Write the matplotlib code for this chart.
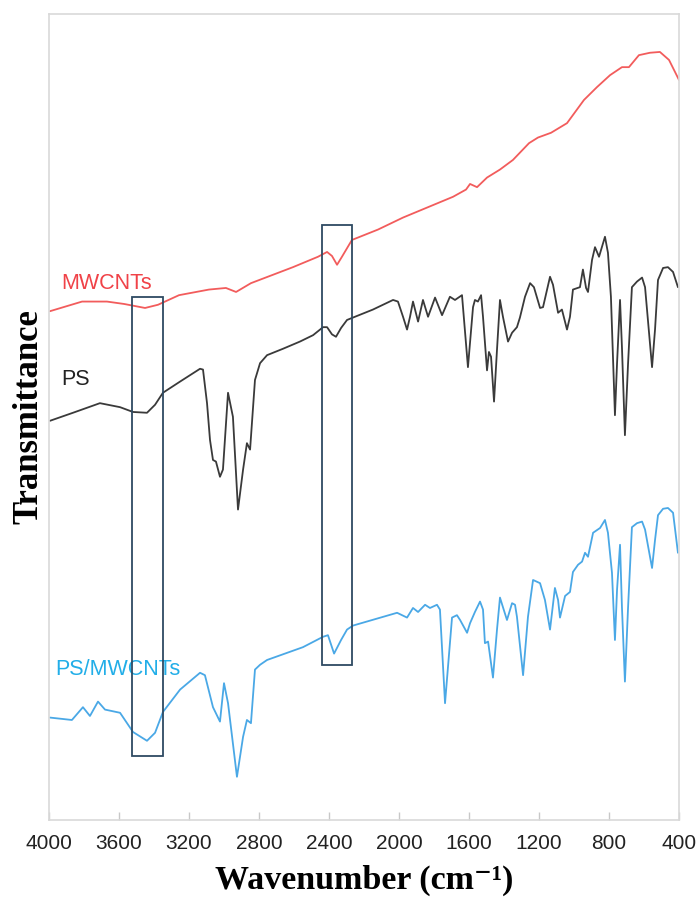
import matplotlib
matplotlib.use("Agg")
import matplotlib.pyplot as plt
from matplotlib.patches import Rectangle

# ---- FTIR spectra (transmittance, arbitrary offset units) ----
mwcnt_wn = [3994, 3811, 3669, 3571, 3451, 3377, 3257, 3086, 2989, 2931, 2846, 2726,
            2606, 2463, 2411, 2383, 2354, 2326, 2269, 2120, 1977, 1834, 1691, 1617,
            1594, 1554, 1497, 1423, 1349, 1257, 1206, 1131, 1040, 943, 869, 794,
            726, 686, 629, 566, 509, 457, 400]
mwcnt_t = [63.6, 64.8, 64.8, 64.5, 64.0, 64.4, 65.6, 66.3, 66.5, 66.0, 67.1, 68.1,
           69.1, 70.4, 71.0, 70.5, 69.4, 70.4, 72.5, 73.8, 75.3, 76.6, 77.9, 78.8,
           79.5, 79.1, 80.3, 81.3, 82.5, 84.6, 85.3, 85.9, 87.1, 90.0, 91.6, 93.1,
           94.1, 94.1, 95.6, 95.9, 96.0, 95.0, 92.5]

ps_wn = [3994, 3863, 3709, 3594, 3520, 3440, 3394, 3349, 3251, 3137, 3120, 3097,
         3080, 3063, 3046, 3023, 3006, 2977, 2949, 2920, 2891, 2869, 2851, 2823,
         2794, 2754, 2663, 2566, 2491, 2434, 2411, 2383, 2360, 2331, 2297, 2263,
         2149, 2034, 2006, 1977, 1954, 1937, 1920, 1891, 1863, 1834, 1794, 1754,
         1709, 1680, 1640, 1606, 1577, 1566, 1549, 1531, 1520, 1497, 1486, 1474,
         1457, 1440, 1423, 1406, 1377, 1354, 1326, 1309, 1280, 1251, 1229, 1194,
         1177, 1137, 1120, 1091, 1069, 1040, 1023, 1006, 966, 949, 931, 920, 897,
         880, 857, 823, 806, 789, 766, 754, 737, 726, 709, 691, 669, 640, 611, 594,
         554, 537, 520, 491, 463, 434, 406]
ps_t = [49.9, 50.9, 52.1, 51.6, 51.0, 50.9, 51.9, 53.4, 54.8, 56.4, 56.3, 52.1,
        47.5, 45.0, 44.8, 42.9, 43.8, 53.4, 50.4, 38.8, 43.8, 47.1, 46.3, 55.0,
        57.1, 58.1, 58.9, 59.8, 60.6, 61.6, 61.6, 60.7, 60.4, 61.5, 62.5, 62.8,
        63.8, 65.0, 64.8, 62.9, 61.3, 62.9, 64.8, 62.3, 65.0, 62.9, 65.3, 63.1,
        65.4, 65.0, 65.6, 56.6, 64.1, 65.0, 64.8, 65.6, 62.9, 56.2, 58.5, 57.9,
        52.3, 58.8, 65.0, 62.9, 59.8, 60.9, 61.6, 62.8, 65.4, 67.1, 66.6, 64.0,
        64.1, 67.9, 66.9, 63.4, 63.8, 61.3, 62.9, 66.3, 66.6, 68.8, 66.5, 66.0, 70.0,
        71.6, 70.4, 72.9, 70.9, 65.4, 50.6, 57.1, 65.0, 59.1, 48.1, 57.1, 66.6, 67.3,
        67.8, 66.6, 56.6, 61.3, 67.5, 69.0, 69.1, 68.5, 66.6]

comp_wn = [3994, 3869, 3806, 3766, 3720, 3680, 3594, 3520, 3440, 3394, 3349, 3251,
           3137, 3109, 3063, 3023, 3000, 2977, 2926, 2891, 2869, 2846, 2823, 2794,
           2754, 2549, 2434, 2406, 2371, 2331, 2297, 2263, 2011, 1954, 1920, 1891,
           1851, 1823, 1783, 1766, 1737, 1697, 1669, 1651, 1611, 1594, 1566, 1537,
           1520, 1509, 1491, 1463, 1440, 1423, 1406, 1383, 1354, 1337, 1326, 1291,
           1263, 1234, 1194, 1166, 1137, 1109, 1091, 1080, 1051, 1023, 1006, 977,
           954, 937, 920, 891, 851, 823, 806, 783, 766, 754, 737, 726, 709, 691, 669,
           640, 611, 594, 554, 537, 520, 491, 463, 434, 406]
comp_t = [12.8, 12.5, 14.1, 13.0, 14.8, 13.8, 13.4, 11.0, 9.9, 10.9, 13.5, 16.3,
          18.4, 18.1, 14.1, 12.3, 17.1, 14.6, 5.4, 10.4, 12.5, 12.1, 18.8, 19.4,
          20.0, 21.6, 22.9, 23.1, 20.8, 22.5, 23.8, 24.3, 25.9, 25.3, 26.5, 26.0,
          26.9, 26.5, 26.9, 26.3, 14.6, 25.3, 25.6, 25.0, 23.4, 24.6, 26.0, 27.3,
          26.3, 22.1, 22.3, 17.8, 23.8, 27.8, 26.6, 25.0, 27.1, 26.9, 25.4, 18.1,
          25.4, 30.0, 29.6, 27.5, 23.8, 29.0, 27.5, 25.3, 28.0, 28.5, 31.0, 31.9,
          32.3, 33.4, 32.9, 35.9, 36.5, 37.5, 35.9, 30.9, 22.5, 28.8, 34.4, 26.6,
          17.3, 26.6, 36.6, 37.1, 37.3, 36.3, 31.5, 35.0, 38.1, 38.9, 39.0, 38.4,
          33.4]

# highlighted bands: (high wavenumber, low wavenumber, top, bottom)
bands = [(3526, 3349, 65.4, 8.0), (2440, 2269, 74.4, 19.4)]

x_ticks = [4000, 3600, 3200, 2800, 2400, 2000, 1600, 1200, 800, 400]

RED = "#F25C5C"
BLACK = "#3A3A3A"
BLUE = "#4AA8E6"
BOX = "#2E4A62"

fig = plt.figure(figsize=(7, 9), dpi=100)
ax = fig.add_axes([0.07, 0.0889, 0.9, 0.8956])

line_kw = dict(lw=1.3, solid_joinstyle="round", solid_capstyle="round")
ax.plot(mwcnt_wn, mwcnt_t, color=RED, **line_kw)
ax.plot(ps_wn, ps_t, color=BLACK, **line_kw)
ax.plot(comp_wn, comp_t, color=BLUE, **line_kw)

for hi, lo, top, bot in bands:
    ax.add_patch(Rectangle((lo, bot), hi - lo, top - bot, fill=False,
                           edgecolor=BOX, lw=1.3, zorder=5))

label_kw = dict(fontsize=15.5, family="Liberation Sans", va="center", ha="left")
ax.text(3928, 67.1, "MWCNTs", color="#F04248", **label_kw)
ax.text(3928, 55.0, "PS", color="#222222", **label_kw)
ax.text(3965, 18.8, "PS/MWCNTs", color="#22AEE8", **label_kw)

ax.set_xlim(4000, 400)
ax.set_ylim(0, 100.75)
ax.set_xticks(x_ticks)
ax.set_xticklabels([str(v) for v in x_ticks], family="Liberation Sans",
                   fontsize=15, color="#222222")
ax.set_yticks([])
ax.tick_params(axis="x", direction="in", length=6, width=1, color="#C8C8C8", pad=10)

for sp in ax.spines.values():
    sp.set_color("#D9D9D9")
    sp.set_linewidth(1.2)

ax.set_xlabel("Wavenumber (cm\u207b\u00b9)", family=["Liberation Serif", "DejaVu Serif"],
              fontweight="bold", fontsize=24.5, va="center")
ax.xaxis.set_label_coords(0.5, -0.0744)
ax.set_ylabel("Transmittance", family="Liberation Serif", fontweight="bold",
              fontsize=25, va="center")
ax.yaxis.set_label_coords(-0.032, 0.5)

fig.savefig("out.png", dpi=100)
